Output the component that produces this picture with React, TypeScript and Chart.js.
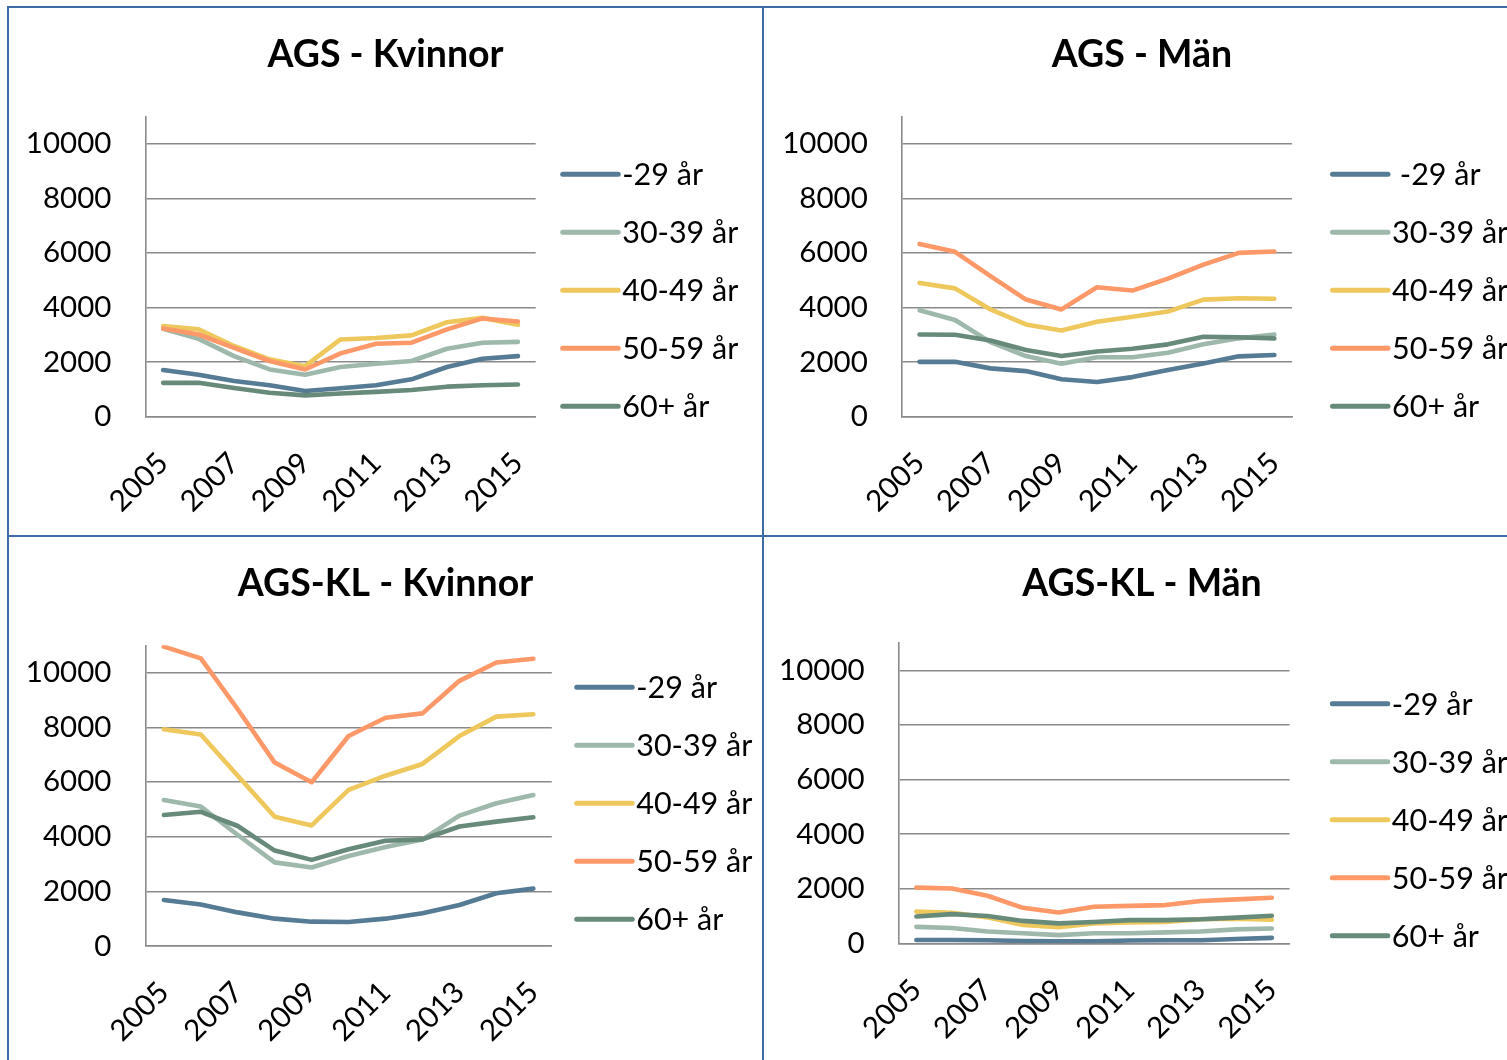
import React, { useEffect, useRef } from 'react';
import { Chart, registerables } from 'chart.js';

Chart.register(...registerables);

// ---------- data ----------
const YEARS = ['2005', '2006', '2007', '2008', '2009', '2010', '2011', '2012', '2013', '2014', '2015'];
const X_TICK_LABELS = ['2005', '2007', '2009', '2011', '2013', '2015'];
const Y_TICKS = [0, 2000, 4000, 6000, 8000, 10000];
const Y_MAX = 11000;

const SERIES_NAMES = ['-29 år', '30-39 år', '40-49 år', '50-59 år', '60+ år'];
const SERIES_NAMES_AGS_MAN = [' -29 år', '30-39 år', '40-49 år', '50-59 år', '60+ år'];
const SERIES_COLORS = ['#567b95', '#9eb8ab', '#eec75d', '#fd9868', '#688a7b'];

const TITLES = ['AGS - Kvinnor', 'AGS - Män', 'AGS-KL - Kvinnor', 'AGS-KL - Män'];

// AGS - Kvinnor
const AGS_K_29 = [1710, 1540, 1310, 1150, 940, 1040, 1150, 1370, 1820, 2120, 2220];
const AGS_K_30 = [3220, 2850, 2220, 1730, 1540, 1820, 1940, 2040, 2490, 2710, 2740];
const AGS_K_40 = [3320, 3200, 2590, 2100, 1850, 2830, 2880, 2980, 3460, 3620, 3370];
const AGS_K_50 = [3230, 3010, 2520, 2040, 1730, 2320, 2670, 2710, 3200, 3600, 3490];
const AGS_K_60 = [1240, 1240, 1050, 880, 780, 850, 910, 980, 1100, 1150, 1180];

// AGS - Män
const AGS_M_29 = [2010, 2010, 1770, 1670, 1370, 1270, 1450, 1710, 1950, 2210, 2260];
const AGS_M_30 = [3900, 3540, 2730, 2220, 1940, 2180, 2180, 2340, 2650, 2870, 3010];
const AGS_M_40 = [4900, 4700, 3930, 3380, 3160, 3480, 3660, 3850, 4290, 4340, 4320];
const AGS_M_50 = [6330, 6040, 5150, 4290, 3930, 4740, 4620, 5060, 5570, 6000, 6050];
const AGS_M_60 = [3010, 3000, 2790, 2440, 2220, 2390, 2490, 2650, 2930, 2910, 2870];

// AGS-KL - Kvinnor
const KL_K_29 = [1680, 1520, 1230, 1000, 890, 880, 1000, 1200, 1500, 1930, 2100];
const KL_K_30 = [5340, 5100, 4060, 3060, 2870, 3290, 3620, 3900, 4770, 5220, 5520];
const KL_K_40 = [7930, 7740, 6230, 4730, 4410, 5710, 6230, 6660, 7680, 8390, 8480];
const KL_K_50 = [10950, 10520, 8660, 6710, 5990, 7680, 8350, 8510, 9700, 10370, 10510];
const KL_K_60 = [4790, 4910, 4390, 3490, 3150, 3540, 3850, 3900, 4370, 4550, 4710];

// AGS-KL - Män
const KL_M_29 = [120, 120, 110, 85, 70, 70, 100, 110, 110, 160, 200];
const KL_M_30 = [600, 560, 430, 370, 300, 370, 370, 400, 430, 510, 540];
const KL_M_40 = [1160, 1120, 950, 670, 590, 730, 760, 780, 880, 900, 860];
const KL_M_50 = [2040, 2010, 1740, 1300, 1130, 1340, 1370, 1400, 1550, 1610, 1670];
const KL_M_60 = [980, 1070, 1000, 820, 730, 780, 850, 850, 880, 940, 1010];

// ---------- layout / style ----------
const FONT = 'Lato, "Open Sans", sans-serif';
const FRAME_COLOR = '#3d6ba3';
const GRID_COLOR = '#8a8a8a';

type PanelCfg = {
  title: string;
  names: string[];
  series: number[][];
  left: number;
  top: number;
  width: number;
  height: number;
  areaLeft: number;
  areaRightPad: number;
  areaTop: number;
  areaBottomSpace: number;
  legendX: number;
  legendY: number;
};

const PANELS: PanelCfg[] = [
  {
    title: TITLES[0], names: SERIES_NAMES, series: [AGS_K_29, AGS_K_30, AGS_K_40, AGS_K_50, AGS_K_60],
    left: 9, top: 8, width: 753, height: 527,
    areaLeft: 136.4, areaRightPad: 226.3, areaTop: 108.4, areaBottomSpace: 118.3,
    legendX: 553.7, legendY: 166.3,
  },
  {
    title: TITLES[1], names: SERIES_NAMES_AGS_MAN, series: [AGS_M_29, AGS_M_30, AGS_M_40, AGS_M_50, AGS_M_60],
    left: 764, top: 8, width: 756, height: 527,
    areaLeft: 137.8, areaRightPad: 227.9, areaTop: 108.4, areaBottomSpace: 118.3,
    legendX: 568.5, legendY: 166.3,
  },
  {
    title: TITLES[2], names: SERIES_NAMES, series: [KL_K_29, KL_K_30, KL_K_40, KL_K_50, KL_K_60],
    left: 9, top: 537, width: 753, height: 528,
    areaLeft: 136.4, areaRightPad: 210.2, areaTop: 108.3, areaBottomSpace: 119,
    legendX: 567.7, legendY: 150.3,
  },
  {
    title: TITLES[3], names: SERIES_NAMES, series: [KL_M_29, KL_M_30, KL_M_40, KL_M_50, KL_M_60],
    left: 764, top: 537, width: 756, height: 528,
    areaLeft: 134.6, areaRightPad: 230.4, areaTop: 106, areaBottomSpace: 121.7,
    legendX: 568.3, legendY: 166.7,
  },
];

const TITLE_SIZE = 37.5;
const TITLE_CENTER_Y = 47;

// Legend + panel title drawn on the chart canvas
const sideLegend = {
  id: 'sideLegend',
  afterDraw(chart: any, _args: any, opts: any) {
    const ctx = chart.ctx as CanvasRenderingContext2D;
    ctx.save();
    ctx.fillStyle = '#000';
    ctx.font = `bold ${opts.titleSize}px ${FONT}`;
    ctx.textAlign = 'center';
    ctx.textBaseline = 'middle';
    ctx.fillText(opts.title, chart.width / 2, opts.titleY);
    chart.data.datasets.forEach((ds: any, i: number) => {
      const y = opts.y + i * opts.gap;
      ctx.strokeStyle = ds.borderColor;
      ctx.lineWidth = opts.lineWidth;
      ctx.lineCap = 'round';
      ctx.beginPath();
      ctx.moveTo(opts.x, y);
      ctx.lineTo(opts.x + opts.lineLen, y);
      ctx.stroke();
      ctx.fillStyle = '#000';
      ctx.font = `${opts.fontSize}px ${FONT}`;
      ctx.textBaseline = 'middle';
      ctx.textAlign = 'left';
      ctx.fillText(ds.label, opts.x + opts.textOffset, y + 1);
    });
    ctx.restore();
  },
};

function Panel({ cfg }: { cfg: PanelCfg }) {
  const ref = useRef<HTMLCanvasElement | null>(null);
  useEffect(() => {
    if (!ref.current) return;
    const chart = new Chart(ref.current, {
      type: 'line',
      data: {
        labels: YEARS,
        datasets: cfg.series.map((vals, i) => ({
          label: cfg.names[i],
          data: vals,
          borderColor: SERIES_COLORS[i],
          backgroundColor: SERIES_COLORS[i],
          borderWidth: 4.6,
          borderCapStyle: 'round' as const,
          borderJoinStyle: 'round' as const,
          pointRadius: 0,
          tension: 0,
          fill: false,
          order: cfg.series.length - i,
        })),
      },
      options: {
        animation: false,
        responsive: false,
        devicePixelRatio: 1,
        layout: {
          padding: { left: 0, top: cfg.areaTop, bottom: 0, right: cfg.areaRightPad },
        },
        plugins: {
          legend: { display: false },
          tooltip: { enabled: false },
          title: { display: false },
          sideLegend: {
            title: cfg.title,
            titleSize: TITLE_SIZE,
            titleY: TITLE_CENTER_Y,
            x: cfg.legendX,
            y: cfg.legendY,
            gap: 58,
            lineLen: 55.5,
            lineWidth: 5,
            textOffset: 59.5,
            fontSize: 30.5,
          },
        } as any,
        scales: {
          x: {
            type: 'category',
            offset: true,
            grid: { display: false },
            border: { display: true, color: GRID_COLOR, width: 1.6 },
            ticks: {
              autoSkip: false,
              minRotation: 45,
              maxRotation: 45,
              padding: 21,
              color: '#000',
              font: { family: FONT, size: 29.5 },
              callback: (_v: any, idx: number) =>
                X_TICK_LABELS.includes(YEARS[idx]) ? YEARS[idx] : '',
            },
            afterFit: (scale: any) => {
              scale.height = cfg.areaBottomSpace;
            },
          },
          y: {
            type: 'linear',
            min: 0,
            max: Y_MAX,
            bounds: 'data',
            grid: { display: true, color: GRID_COLOR, lineWidth: 1.4, drawTicks: false },
            border: { display: true, color: GRID_COLOR, width: 1.6 },
            ticks: {
              padding: 34,
              color: '#000',
              font: { family: FONT, size: 29.5 },
              callback: (v: any) => String(v),
            },
            afterBuildTicks: (axis: any) => {
              axis.ticks = Y_TICKS.map((v) => ({ value: v }));
            },
            afterFit: (scale: any) => {
              scale.width = cfg.areaLeft;
            },
          },
        },
      },
      plugins: [sideLegend],
    });
    return () => chart.destroy();
  }, [cfg]);
  return (
    <canvas
      ref={ref}
      width={cfg.width}
      height={cfg.height}
      style={{ position: 'absolute', left: cfg.left, top: cfg.top, width: cfg.width, height: cfg.height }}
    />
  );
}

export default function App() {
  const line = (l: number, t: number, w: number, h: number) => (
    <div style={{ position: 'absolute', left: l, top: t, width: w, height: h, background: FRAME_COLOR }} />
  );
  return (
    <div
      style={{
        position: 'fixed',
        left: 0,
        top: 0,
        width: 1507,
        height: 1060,
        overflow: 'hidden',
        background: '#fff',
        fontFamily: FONT,
      }}
    >
      {PANELS.map((p, i) => (
        <Panel key={i} cfg={p} />
      ))}
      {line(7, 6, 1500, 2)}
      {line(7, 6, 2, 1054)}
      {line(762, 6, 2, 1054)}
      {line(7, 535, 1500, 2)}
    </div>
  );
}
